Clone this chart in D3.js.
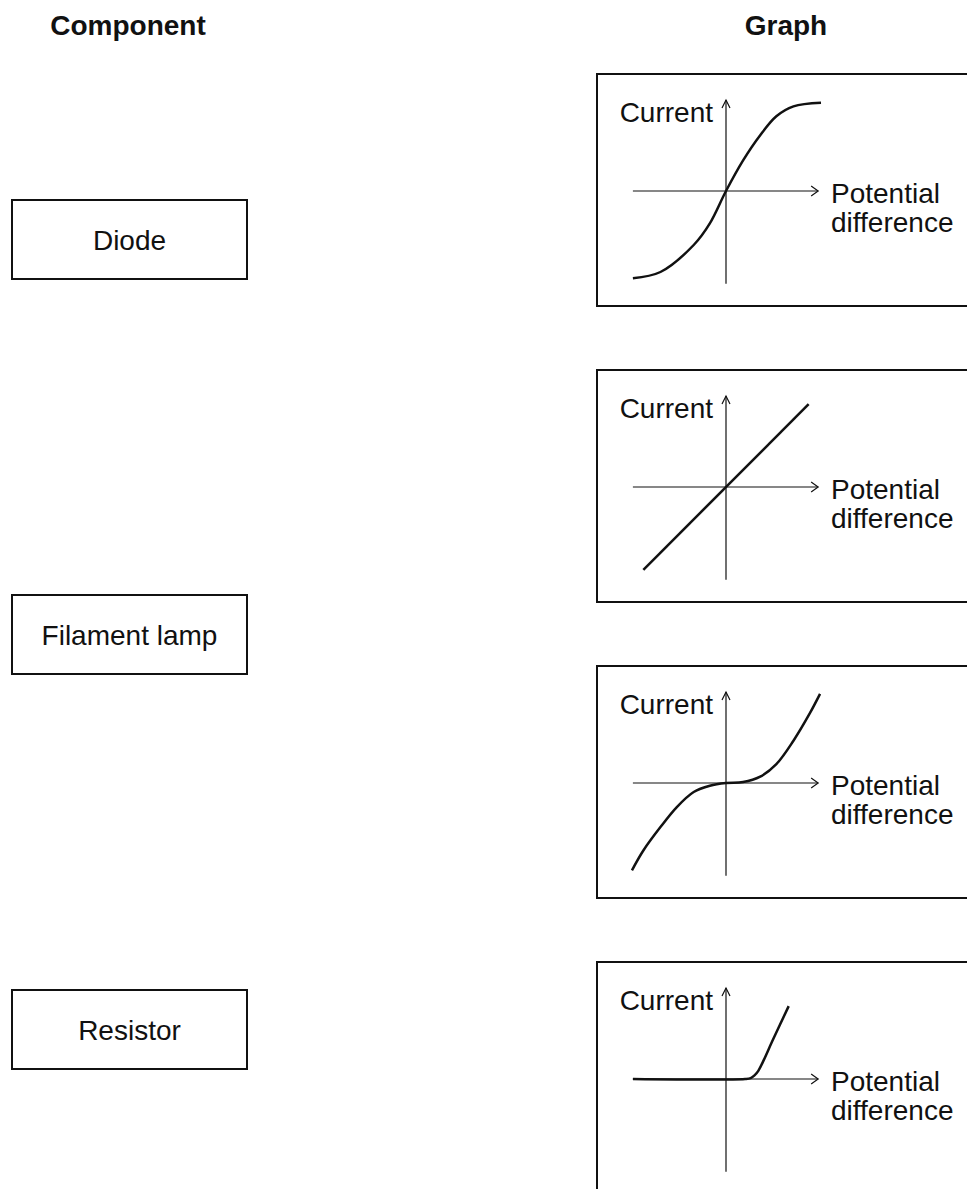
<!DOCTYPE html>
<html>
<head>
<meta charset="utf-8">
<script src="https://cdn.jsdelivr.net/npm/d3@7"></script>
<style>
  html, body { margin: 0; padding: 0; background: #fff; }
  svg { display: block; }
</style>
</head>
<body>
<div id="chart"></div>
<script>
// components listed in the left column
const components = ["Diode", "Filament lamp", "Resistor"];

// I-V curves, potential difference (x) and current (y) in relative units
const sigmoidCurve = [
    [-0.98, -0.97], [-0.69, -0.90], [-0.34, -0.60], [-0.17, -0.36], [0, 0],
    [0.18, 0.34], [0.36, 0.62], [0.53, 0.83], [0.71, 0.94], [1.0, 0.98]
];
const straightLine = [[-0.87, -0.92], [0.87, 0.92]];
const cubicCurve = [
    [-0.99, -0.97], [-0.87, -0.75], [-0.69, -0.49], [-0.52, -0.27], [-0.34, -0.10],
    [-0.17, -0.03], [0, 0], [0.18, 0.01], [0.36, 0.07], [0.53, 0.21],
    [0.71, 0.47], [0.88, 0.77], [0.99, 0.99]
];
const thresholdCurve = [
    [-0.98, 0], [0.20, 0], [0.26, 0.01], [0.30, 0.04], [0.34, 0.09],
    [0.50, 0.45], [0.66, 0.81]
];

const graphs = [sigmoidCurve, straightLine, cubicCurve, thresholdCurve];
const headers = ["Component", "Graph"];
const axisLabels = { y: "Current", x: ["Potential", "difference"] };

function drawChart() {
    const width = 967, height = 1189;
    const font = "'Liberation Sans', Arial, sans-serif";
    const fontSize = "28px";
    const ink = "#111";

    const svg = d3.select("#chart")
        .append("svg")
            .attr("width", width)
            .attr("height", height);

    // headers
    svg.selectAll(".header")
        .data(headers)
        .join("text")
            .attr("class", "header")
            .attr("x", (d, i) => i === 0 ? 128 : 786)
            .attr("y", 35)
            .style("text-anchor", "middle")
            .style("font-family", font)
            .style("font-weight", "bold")
            .style("font-size", fontSize)
            .style("fill", ink)
            .text(d => d);

    // component boxes
    const boxW = 235, boxH = 79;
    const comp = svg.selectAll(".component")
        .data(components)
        .join("g")
            .attr("class", "component")
            .attr("transform", (d, i) => "translate(12," + (200 + i * 395) + ")");

    comp.append("rect")
        .attr("width", boxW)
        .attr("height", boxH)
        .attr("fill", "none")
        .attr("stroke", ink)
        .attr("stroke-width", 2);

    comp.append("text")
        .attr("x", boxW / 2)
        .attr("y", 50)
        .style("text-anchor", "middle")
        .style("font-family", font)
        .style("font-size", fontSize)
        .style("fill", ink)
        .text(d => d);

    // graph panels
    const panelH = 232;
    const x = d3.scaleLinear().domain([-1, 1]).range([-95, 95]);
    const y = d3.scaleLinear().domain([-1, 1]).range([90, -90]);
    const line = d3.line()
        .x(d => x(d[0]))
        .y(d => y(d[1]))
        .curve(d3.curveCatmullRom.alpha(0.5));

    const panels = svg.selectAll(".panel")
        .data(graphs)
        .join("g")
            .attr("class", "panel")
            .attr("transform", (d, i) => "translate(597," + (74 + i * 296) + ")");

    panels.append("rect")
        .attr("width", 400)
        .attr("height", panelH)
        .attr("fill", "none")
        .attr("stroke", ink)
        .attr("stroke-width", 2);

    const plot = panels.append("g")
        .attr("transform", "translate(129,117)");

    // axes
    plot.append("line")
        .attr("x1", x(-0.98)).attr("x2", x(0.97))
        .attr("y1", 0).attr("y2", 0)
        .attr("stroke", ink)
        .attr("stroke-width", 1.2);

    plot.append("path")
        .attr("d", "M" + (x(0.97) - 7) + ",-5L" + x(0.97) + ",0L" + (x(0.97) - 7) + ",5")
        .attr("fill", "none")
        .attr("stroke", ink)
        .attr("stroke-width", 1.2);

    plot.append("line")
        .attr("x1", 0).attr("x2", 0)
        .attr("y1", y(1.01)).attr("y2", y(-1.03))
        .attr("stroke", ink)
        .attr("stroke-width", 1.2);

    plot.append("path")
        .attr("d", "M-4," + (y(1.01) + 8) + "L0," + y(1.01) + "L4," + (y(1.01) + 8))
        .attr("fill", "none")
        .attr("stroke", ink)
        .attr("stroke-width", 1.2);

    // axis labels
    plot.append("text")
        .attr("x", -13)
        .attr("y", -69)
        .style("text-anchor", "end")
        .style("font-family", font)
        .style("font-size", fontSize)
        .style("fill", ink)
        .text(axisLabels.y);

    plot.selectAll(".xlabel")
        .data(axisLabels.x)
        .join("text")
            .attr("class", "xlabel")
            .attr("x", 105)
            .attr("y", (d, i) => 12 + i * 29)
            .style("font-family", font)
            .style("font-size", fontSize)
            .style("fill", ink)
            .text(d => d);

    // characteristic curves
    plot.append("path")
        .attr("d", d => line(d))
        .attr("fill", "none")
        .attr("stroke", ink)
        .attr("stroke-width", 2.5)
        .attr("stroke-linejoin", "round");
}

drawChart();
</script>
</body>
</html>
